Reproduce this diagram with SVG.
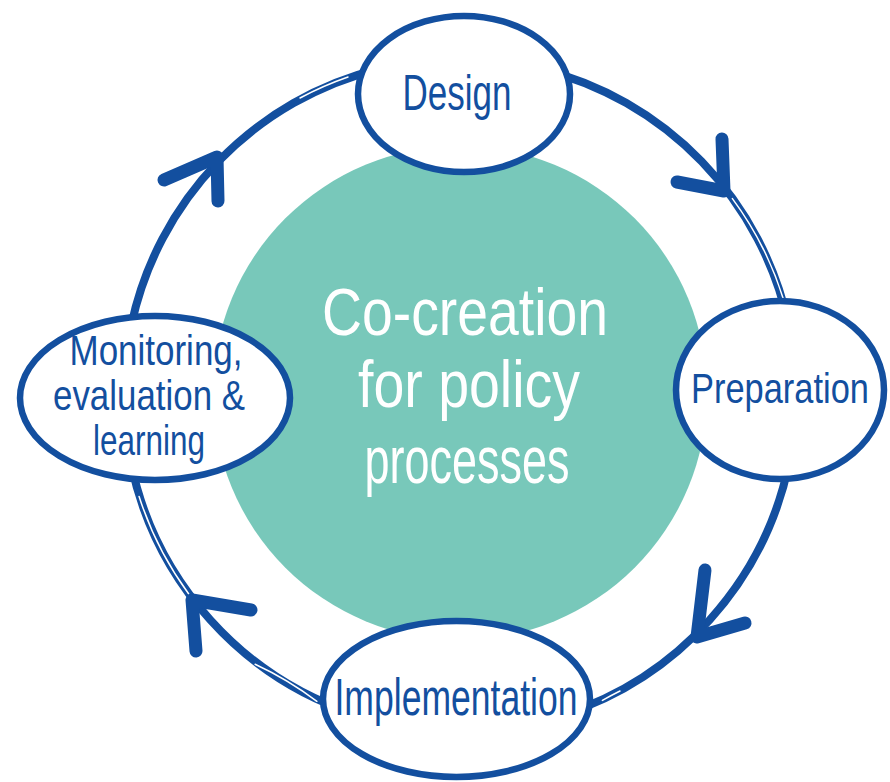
<svg xmlns="http://www.w3.org/2000/svg" width="890" height="782" viewBox="0 0 890 782">
  <style>
    .ring { fill: none; stroke: #134f9f; stroke-width: 8; stroke-linecap: round; }
    .gap { fill: none; stroke: #ffffff; stroke-width: 1.5; stroke-linecap: round; }
    .head { fill: none; stroke: #134f9f; stroke-width: 13; stroke-linecap: round; stroke-linejoin: round; }
    .node { fill: #ffffff; stroke: #134f9f; stroke-width: 6.5; }
    .lbl { font-family: "Liberation Sans", "DejaVu Sans", sans-serif; fill: #134f9f; text-anchor: middle; }
    .ctr { font-family: "Liberation Sans", "DejaVu Sans", sans-serif; fill: #ffffff; text-anchor: middle; font-size: 66px; }
  </style>
  <rect width="890" height="782" fill="#ffffff"/>
  <g id="center">
    <circle cx="460" cy="393" r="247" fill="#78c8ba"/>
    <text class="ctr" x="465" y="335" textLength="286" lengthAdjust="spacingAndGlyphs">Co-creation</text>
    <text class="ctr" x="469" y="407" textLength="222" lengthAdjust="spacingAndGlyphs">for policy</text>
    <text class="ctr" x="467" y="483" textLength="205" lengthAdjust="spacingAndGlyphs">processes</text>
  </g>
  <g id="connectors">
    <path class="ring" d="M 541.3 69.0 A 336 336 0 0 1 788.7 325.1"/>
    <path class="ring" d="M 788.7 464.9 A 336 336 0 0 1 563.8 714.6"/>
    <path class="ring" d="M 356.2 714.6 A 336 336 0 0 1 131.3 464.9"/>
    <path class="ring" d="M 131.3 325.1 A 336 336 0 0 1 378.7 69.0"/>
    <path class="gap" d="M 732.4 198.6 A 337 337 0 0 1 783.1 298.3"/>
    <path class="gap" d="M 602.4 700.4 A 337 337 0 0 1 620.0 691.0"/>
    <path class="gap" d="M 255.1 664.2 A 338 338 0 0 1 316.9 701.3"/>
    <path class="gap" d="M 188.6 593.7 A 338 338 0 0 1 139.1 496.4"/>
    <path class="gap" d="M 300.0 98.0 A 337 337 0 0 1 348.0 77.0"/>
    <path class="head" d="M 722 139 L 724 191 L 677 182"/>
    <path class="head" d="M 705 570 L 697 637 L 745 623"/>
    <path class="head" d="M 251 610 L 192 600 L 196 651"/>
    <path class="head" d="M 164 180 L 217 157 L 218 201"/>
  </g>
  <g id="node-design">
    <ellipse class="node" cx="464" cy="94" rx="106" ry="78"/>
    <text class="lbl" x="457" y="110" font-size="50" textLength="109" lengthAdjust="spacingAndGlyphs">Design</text>
  </g>
  <g id="node-preparation">
    <ellipse class="node" cx="780" cy="390" rx="104" ry="89"/>
    <text class="lbl" x="780" y="403" font-size="42" textLength="178" lengthAdjust="spacingAndGlyphs">Preparation</text>
  </g>
  <g id="node-implementation">
    <ellipse class="node" cx="456.5" cy="699" rx="133.5" ry="78"/>
    <text class="lbl" x="456" y="715" font-size="52" textLength="243" lengthAdjust="spacingAndGlyphs">Implementation</text>
  </g>
  <g id="node-monitoring">
    <ellipse class="node" cx="155" cy="398" rx="135" ry="82"/>
    <text class="lbl" x="156" y="365" font-size="42" textLength="173" lengthAdjust="spacingAndGlyphs">Monitoring,</text>
    <text class="lbl" x="149" y="410" font-size="42" textLength="192" lengthAdjust="spacingAndGlyphs">evaluation &amp;</text>
    <text class="lbl" x="149" y="455" font-size="42" textLength="112" lengthAdjust="spacingAndGlyphs">learning</text>
  </g>
</svg>
